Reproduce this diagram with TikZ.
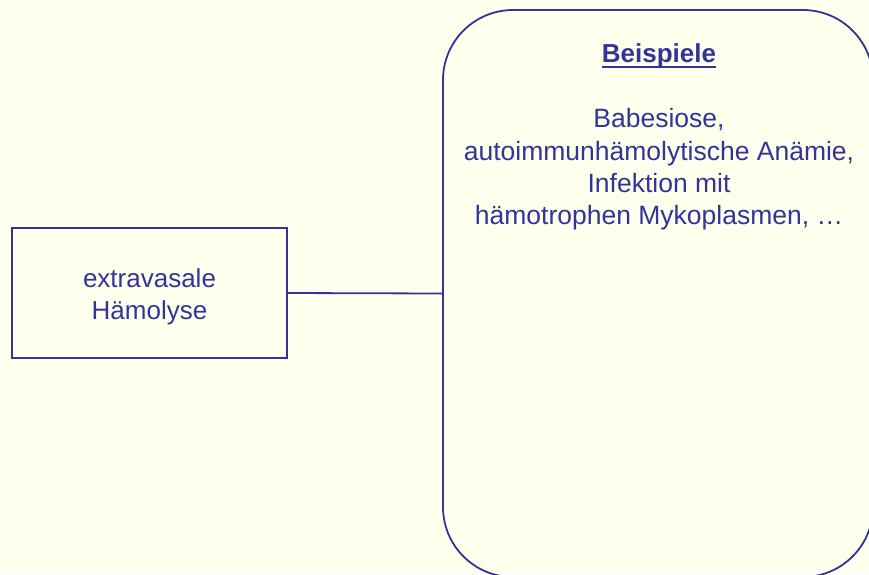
\documentclass[tikz,border=0pt]{standalone}
\usepackage{fontspec}
\setmainfont{Liberation Sans}
\definecolor{ink}{HTML}{333399}
\definecolor{paper}{HTML}{FFFFEE}
\newcommand{\ulbar}[1]{\setbox0\hbox{#1}\rlap{\rule[-5.5pt]{\wd0}{2.5pt}}\box0}
\begin{document}
\begin{tikzpicture}
  [
    x=1pt, y=-1pt,
    box/.style =
      {draw=ink, line width=1.8pt, inner sep=0pt},
    txt/.style =
      {align=center, text=ink, inner sep=0pt, font=\fontsize{26.5}{32.3}\selectfont},
    link/.style =
      {draw=ink, line width=1.8pt}
  ]
  \fill [paper] (0,0) rectangle (869,574);
  \useasboundingbox (0,0) rectangle (869,574);
  \node [box, minimum width=275pt, minimum height=130pt] at (149.5, 293) (hl) {};
  \node [txt, font=\fontsize{26}{32.3}\selectfont] at (149.5, 297) (hltext) {extravasale\\Hämolyse};
  \node [box, rounded corners=70pt, minimum width=430pt, minimum height=567pt] at (658, 293.5) (bsp) {};
  \node [txt, font=\fontsize{26}{30}\selectfont\bfseries, anchor=base] at (659, 62.5) (title) {\ulbar{Beispiele}};
  \node [txt] at (659, 169.5) (list) {Babesiose,\\autoimmunhämolytische Anämie,\\Infektion mit\\hämotrophen Mykoplasmen, …};

  \draw [link] (hl.east) -- (bsp.west);
\end{tikzpicture}
\end{document}
